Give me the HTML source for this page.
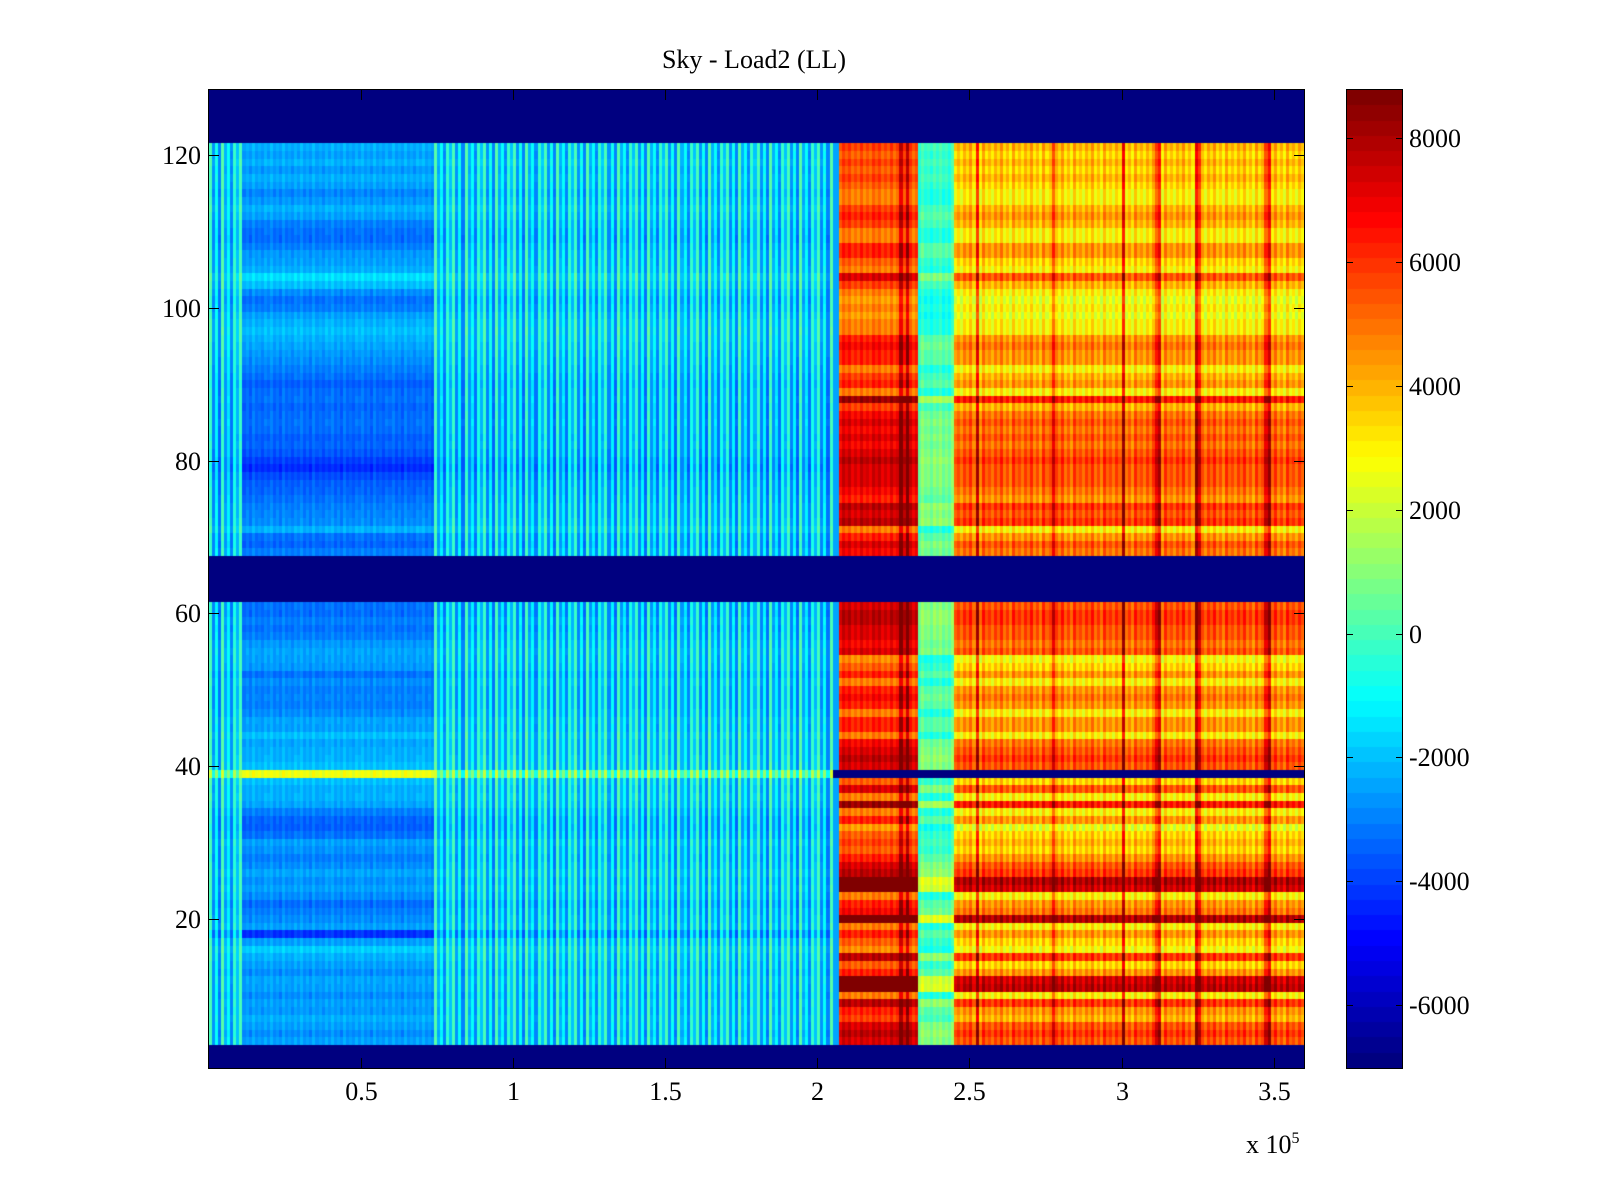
<!DOCTYPE html>
<html><head><meta charset="utf-8">
<style>
html,body{margin:0;padding:0;background:#fff;}
#wrap{position:relative;width:1600px;height:1200px;overflow:hidden;font-family:"Liberation Serif",serif;color:#000;}
.lbl{position:absolute;font-size:26px;white-space:nowrap;line-height:30px;}
canvas{position:absolute;}
svg{position:absolute;left:0;top:0;}
</style></head><body>
<div id="wrap">
<div class="lbl" style="left:0;width:1508px;text-align:center;top:45px;">Sky - Load2 (LL)</div>
<canvas id="hm" width="1095" height="978" style="left:209px;top:90px;"></canvas>
<canvas id="cb" width="55" height="978" style="left:1347px;top:90px;"></canvas>
<svg id="ax" width="1600" height="1200"></svg>
<div class="lbl" style="left:1246px;top:1124px;">x 10<sup style="font-size:16px;vertical-align:10px;">5</sup></div>
<div id="labels"></div>
</div>
<script>
// ---- data ----
const clim = [-7012, 8774];
const nRows = 128;
const xMax = 3.6; // x 1e5
const colWidth = 0.01; // 1000 units
// right-side (warm) row profile, thousands; null = masked (min)
const rightProfile = [null,null,null,
5.5,6,5.5,4,4.5,6,3,7.8,7.5,4.5,3.5,6,2.8,3.5,4.5,3,8,5,4.5,3,7.5,8,6,5.5,4.5,3.5,4,3.5,2.5,4.5,3,6.5,3,5.5,3.5,null,
5.5,6,5.5,5,3,4.5,4.5,3,4.5,5,4.5,3,4.5,3.5,2.8,5.5,5,5.5,5.5,6,6,5.5,
null,null,null,null,null,null,
5,5.5,4.5,3,6,5.5,6,4.5,5,5.5,5.5,5.5,6,5.5,5,5.5,5,5.5,5,4,6.5,3,4.5,4,3,4.5,4.5,5,4.5,3,3,2.5,3,2.5,3,4,5.5,3,3.5,4.5,4.5,3,3,4,4.5,4,3,3,3.5,4,3.5,4,3.5,4,
null,null,null,null,null,null,null];
// left-side (cool) row profile, thousands
const leftProfile = [null,null,null,
-2.5,-2.8,-2.5,-2.3,-2.6,-2.5,-2.8,-2.5,-2.4,-2.8,-2.5,-2.2,-1.8,
-2.5,-4.2,-2.5,-2.8,-3.0,-3.3,-2.8,-2.5,-2.7,-2.4,-2.8,-3.0,-2.7,-2.5,-3.2,-3.5,-3.4,-3.0,-2.4,-2.2,-2.3,-2.0,2.6,
-2.0,-2.2,-2.3,-2.4,-2.0,-2.5,-2.4,-2.8,-3.0,-2.9,-3.0,-2.8,-3.2,-2.6,-2.5,-2.4,-2.6,-3.0,-3.2,-3.0,-3.3,-3.2,
null,null,null,null,null,null,
-3.0,-3.4,-3.2,-2.2,-2.8,-2.9,-3.0,-3.2,-3.4,-3.5,-3.8,-4.3,-4.0,-3.6,-3.4,-3.5,-3.3,-3.2,-3.3,-3.4,-3.2,-3.3,-3.5,-3.2,-3.0,-2.8,-2.6,-2.4,-2.2,-2.0,-2.2,-2.5,-3.0,-3.2,-2.8,-2.0,-1.5,-2.3,-2.5,-2.6,-3.0,-3.3,-3.2,-3.0,-2.5,-2.2,-2.6,-2.9,-2.5,-2.3,-2.6,-2.2,-2.5,-2.3,
null,null,null,null,null,null,null];
// x segments (x 1e5)
const segStart = [0,    0.11, 0.74, 2.05, 2.07, 2.33, 2.45];
const segEnd   = [0.11, 0.74, 2.05, 2.07, 2.33, 2.45, 3.6];
const segSource= ['left','left','left','const','right','right','right'];
const segScale = [0.4, 1.0, 0.4, 0, 1.0, 0.6, 1.0];
const segShift = [-0.4, 0, -0.4, -2.5, 1.8, 0.3, 0];
const segStripe= [1.8, 0.3, 1.8, 0, 0.5, 0.4, 0.8];
const stripePattern = [0.8,-0.7,0.3,-0.9,0.9,-0.5,0.2,-0.8,0.6,-0.3];
const hotLines = [2.28, 2.30, 2.53, 2.78, 3.01, 3.12, 3.25, 3.48];
const yTicks = [20,40,60,80,100,120];
const xTicks = [0.5,1,1.5,2,2.5,3,3.5];
const xTickLabels = ['0.5','1','1.5','2','2.5','3','3.5'];
const cTicks = [-6000,-4000,-2000,0,2000,4000,6000,8000];

// ---- geometry ----
const P = {l:209,t:90,w:1095,h:978};
const CB = {l:1347,w:55};
const yLo = 0.5, yHi = 128.5;
const xs = v => P.l + v / xMax * P.w;
const ys = v => P.t + (yHi - v) / (yHi - yLo) * P.h;
const cs = v => P.t + (clim[1] - v) / (clim[1] - clim[0]) * P.h;

function jet(t){
  t=Math.max(0,Math.min(1,t));
  t=Math.floor(t*63.999)/63;
  const c=x=>Math.round(255*Math.max(0,Math.min(1,1.5-Math.abs(x))));
  return 'rgb('+c(4*t-3)+','+c(4*t-2)+','+c(4*t-1)+')';
}
function cellValue(r, x, ci){
  for(let s=0;s<segStart.length;s++){
    if(x>=segStart[s] && x<segEnd[s]){
      let base;
      if(segSource[s]==='const'){ base = leftProfile[r]===null?null:segShift[s]; }
      else{
        const prof = segSource[s]==='left'?leftProfile:rightProfile;
        if(prof[r]===null) return clim[0];
        const p = prof[r];
        if(segSource[s]==='right' && segScale[s]!==1) base=(p-4.5)*segScale[s]+segShift[s];
        else base=p*segScale[s]+segShift[s];
      }
      if(base===null) return clim[0];
      let v = base + segStripe[s]*stripePattern[ci%stripePattern.length];
      if(segSource[s]==='right'){
        for(const h of hotLines) if(Math.abs(x-h)<0.005) v+=2.5;
      }
      return Math.min(v*1000, clim[1]);
    }
  }
  return clim[0];
}
// ---- heatmap ----
const hm=document.getElementById('hm').getContext('2d');
const nCols=Math.round(xMax/colWidth);
for(let r=0;r<nRows;r++){
  const row=r+1;
  const y0=Math.round(ys(row+0.5)-P.t), y1=Math.round(ys(row-0.5)-P.t);
  for(let c=0;c<nCols;c++){
    const x=(c+0.5)*colWidth;
    let v=cellValue(r,x,c);
    if(leftProfile[r]!==null && rightProfile[r]===null && x>=2.05) v=clim[0];
    hm.fillStyle=jet((v-clim[0])/(clim[1]-clim[0]));
    const x0=Math.round(xs(c*colWidth)-P.l), x1=Math.round(xs((c+1)*colWidth)-P.l);
    hm.fillRect(x0,y0,x1-x0,y1-y0);
  }
}
// ---- colorbar ----
const cb=document.getElementById('cb').getContext('2d');
for(let i=0;i<64;i++){
  const y0=Math.round(P.h*(63-i)/64), y1=Math.round(P.h*(64-i)/64);
  cb.fillStyle=jet(i/63); cb.fillRect(0,y0,CB.w,y1-y0);
}
// ---- axes ----
const NS='http://www.w3.org/2000/svg';
const ax=document.getElementById('ax');
function ln(x1,y1,x2,y2,name){
  const e=document.createElementNS(NS,'line');
  e.setAttribute('x1',x1);e.setAttribute('y1',y1);e.setAttribute('x2',x2);e.setAttribute('y2',y2);
  e.setAttribute('stroke','#000');e.setAttribute('stroke-width','1');
  
  
  ax.appendChild(e);
}
function box(x,y,w,h,name){
  const e=document.createElementNS(NS,'rect');
  e.setAttribute('x',x+0.5);e.setAttribute('y',y+0.5);e.setAttribute('width',w);e.setAttribute('height',h);
  e.setAttribute('fill','none');e.setAttribute('stroke','#000');
  
  
  ax.appendChild(e);
}
box(P.l-1,P.t-1,P.w+1,P.h+1,'plot-frame');
box(CB.l-1,P.t-1,CB.w+1,P.h+1,'colorbar-frame');
const lab=document.getElementById('labels');
function label(txt,x,y,align,name){
  const d=document.createElement('div');
  d.className='lbl';d.textContent=txt;
  
  
  d.style.top=(y-15)+'px';
  if(align==='right'){d.style.right=(1600-x)+'px';}
  else if(align==='center'){d.style.left=(x-50)+'px';d.style.width='100px';d.style.textAlign='center';}
  else d.style.left=x+'px';
  lab.appendChild(d);
}
yTicks.forEach(v=>{const y=Math.round(ys(v))+0.5;
  ln(P.l,y,P.l+10,y,'y-tick');ln(P.l+P.w,y,P.l+P.w-10,y,'y-tick');
  label(String(v),201,y,'right','y-tick-label');});
xTicks.forEach((v,i)=>{const x=Math.round(xs(v))+0.5;
  ln(x,P.t+P.h,x,P.t+P.h-10,'x-tick');ln(x,P.t,x,P.t+10,'x-tick');
  label(xTickLabels[i],x,1092,'center','x-tick-label');});
cTicks.forEach(v=>{const y=Math.round(cs(v))+0.5;
  ln(CB.l,y,CB.l+6,y,'colorbar-tick');ln(CB.l+CB.w,y,CB.l+CB.w-6,y,'colorbar-tick');
  label(String(v),1409,y,'left','colorbar-tick-label');});
</script>
</body></html>
